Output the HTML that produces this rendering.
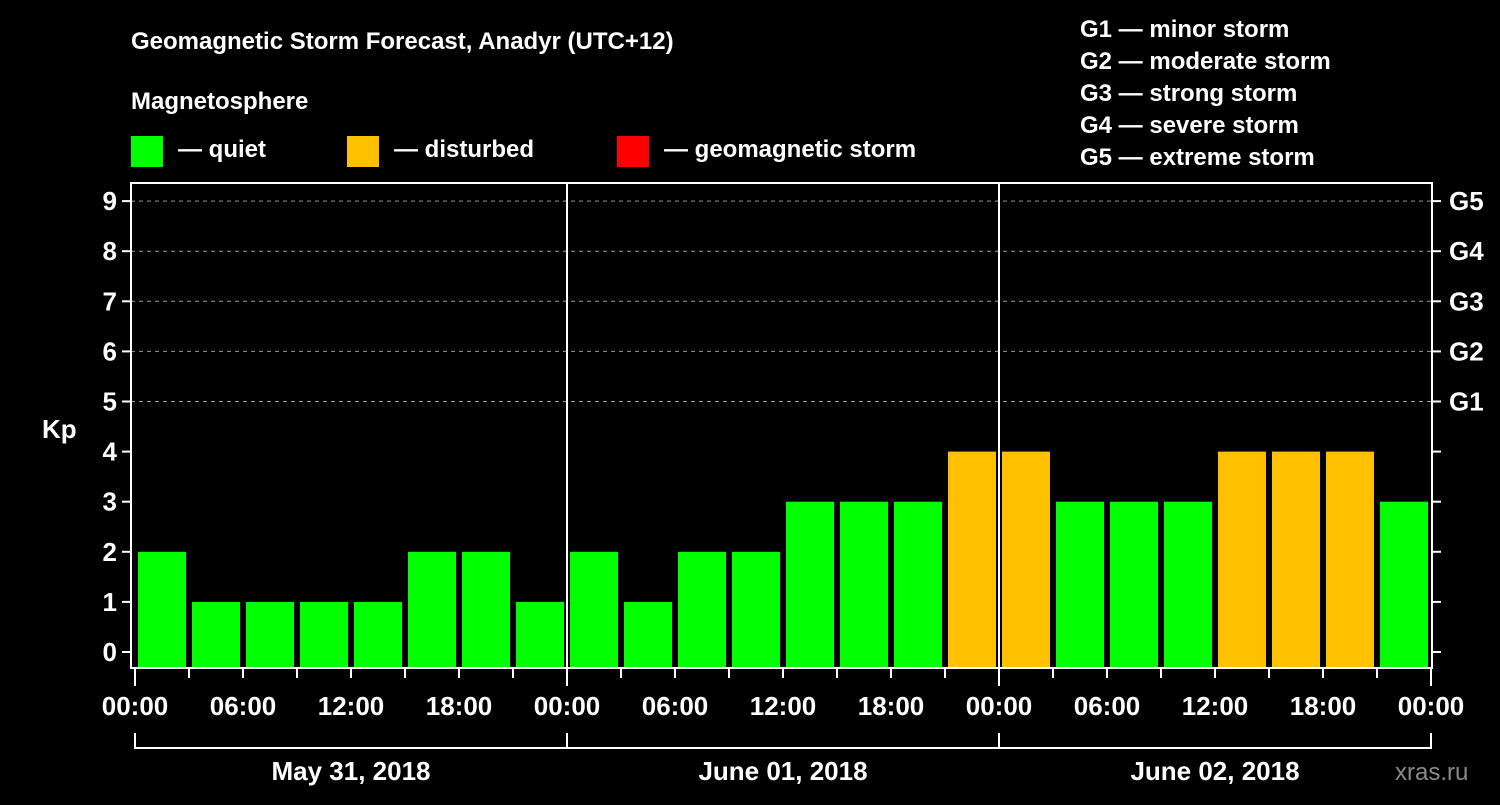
<!DOCTYPE html>
<html><head><meta charset="utf-8"><style>
body{margin:0;background:#000;width:1500px;height:800px;overflow:hidden}
text{font-family:"Liberation Sans",Arial,sans-serif;font-weight:bold;fill:#fff}
</style></head><body>
<svg id="chart" width="1500" height="800" xmlns="http://www.w3.org/2000/svg">
<rect width="1500" height="800" fill="#000"/>
<text x="131" y="49" font-size="24">Geomagnetic Storm Forecast, Anadyr (UTC+12)</text>
<text x="131" y="109" font-size="24">Magnetosphere</text>
<g><rect x="131" y="136" width="32" height="31" fill="#00ff00"/><text x="178" y="157" font-size="24">— quiet</text></g>
<g><rect x="347" y="136" width="32" height="31" fill="#ffc000"/><text x="394" y="157" font-size="24">— disturbed</text></g>
<g><rect x="617" y="136" width="32" height="31" fill="#ff0000"/><text x="664" y="157" font-size="24">— geomagnetic storm</text></g>
<g font-size="24">
<text x="1080" y="37">G1 — minor storm</text>
<text x="1080" y="69">G2 — moderate storm</text>
<text x="1080" y="101">G3 — strong storm</text>
<text x="1080" y="133">G4 — severe storm</text>
<text x="1080" y="165">G5 — extreme storm</text>
</g>
<text x="42" y="438" font-size="26">Kp</text>
<g id="grid"></g><g id="bars"></g><g id="axes"></g>
<text x="1395" y="780" font-size="24" fill="#888" style="fill:#8a8a8a;font-weight:normal">xras.ru</text>
</svg>
<script>
const values=[2,1,1,1,1,2,2,1, 2,1,2,2,3,3,3,4, 4,3,3,3,4,4,4,3];
const yTicks=[0,1,2,3,4,5,6,7,8,9];
const gLabels=["G1","G2","G3","G4","G5"];
const timeLabels=["00:00","06:00","12:00","18:00"];
const dayLabels=["May 31, 2018","June 01, 2018","June 02, 2018"];
const NS="http://www.w3.org/2000/svg";
const L=131,R=1432,T=183,B=668,X0=135,DAY=432;
const y=v=>652-v*50.1;
const x=h=>X0+h*DAY/24;
function mk(tag,attrs,parent,txt){const e=document.createElementNS(NS,tag);for(const k in attrs)e.setAttribute(k,attrs[k]);if(txt!==undefined)e.textContent=txt;parent.appendChild(e);return e;}
const grid=document.getElementById('grid'),bars=document.getElementById('bars'),axes=document.getElementById('axes');
yTicks.forEach(v=>{
 if(v>=5){const l=mk('line',{x1:L,x2:R,y1:y(v),y2:y(v),stroke:'#999','stroke-width':1,'stroke-dasharray':'4,4'},grid);
 
 }
 const t=mk('line',{x1:L-9,x2:L,y1:y(v),y2:y(v),stroke:'#fff','stroke-width':2},axes);
 
 
 const tr=mk('line',{x1:R,x2:R+9,y1:y(v),y2:y(v),stroke:'#fff','stroke-width':2},axes);
 
 
 const lb=mk('text',{x:L-14,y:y(v)+9,'font-size':26,'text-anchor':'end'},axes,String(v));
 
 
});
gLabels.forEach((g,i)=>{
 const t=mk('text',{x:R+17,y:y(5+i)+9,'font-size':26},axes,g);
 
 
});
values.forEach((v,i)=>{
 const top=y(v),bw=DAY/8;
 const r=mk('rect',{x:x(i*3)+3,y:top,width:bw-6,height:667-top,fill:v>=5?'#ff0000':(v>=4?'#ffc000':'#00ff00')},bars);
 
 
});
for(let d=1;d<3;d++){const l=mk('line',{x1:x(d*24),x2:x(d*24),y1:T,y2:B,stroke:'#fff','stroke-width':2},axes);
 
 }
const fr=mk('rect',{x:L,y:T,width:R-L,height:B-T,fill:'none',stroke:'#fff','stroke-width':2},axes);


for(let h=0;h<=72;h+=3){
 const major=h%24===0;
 const t=mk('line',{x1:x(h),x2:x(h),y1:B,y2:B+(major?18:10),stroke:'#fff','stroke-width':2},axes);
 
 
 if(h%6===0){const lb=mk('text',{x:x(h),y:B+47,'font-size':26,'text-anchor':'middle'},axes,timeLabels[(h%24)/6]);
 
 }
}
dayLabels.forEach((d,i)=>{
 const x1=x(i*24),x2=x(i*24+24);
 const p=mk('path',{d:`M${x1},733V748H${x2}V733`,fill:'none',stroke:'#fff','stroke-width':2},axes);
 
 
 const t=mk('text',{x:(x1+x2)/2,y:780,'font-size':26,'text-anchor':'middle'},axes,d);
 
 
});
</script>
</body></html>
